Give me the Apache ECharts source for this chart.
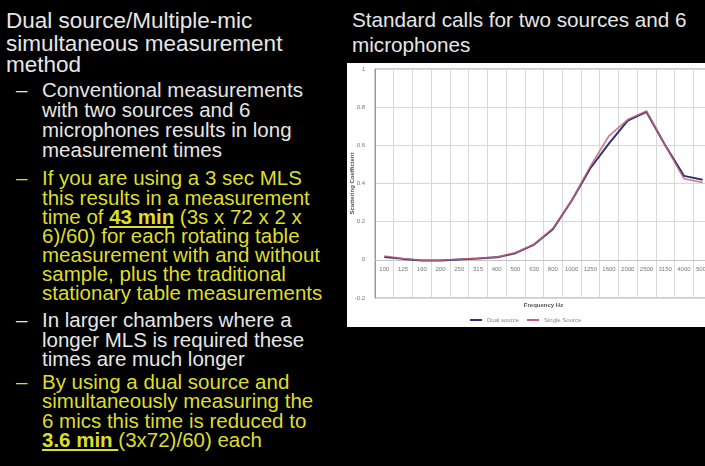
<!DOCTYPE html>
<html><head><meta charset="utf-8">
<script src="https://cdn.jsdelivr.net/npm/echarts@6/dist/echarts.min.js"></script>
<style>
html,body{margin:0;padding:0;width:705px;height:466px;background:#000;overflow:hidden;font-family:"Liberation Sans",Arial,sans-serif;}
.t{position:absolute;white-space:nowrap;color:#e6e6e6;line-height:1;}
.h{font-size:22.5px;left:6px;}
.b{font-size:20.5px;left:42px;}
.d{font-size:20.5px;left:16px;}
.y{color:#dede2a;}
#box{position:absolute;left:347px;top:63px;width:370px;height:264px;background:#fff;}
#chart{position:absolute;left:347px;top:63px;width:365px;height:264px;}
</style></head><body>
<div class="t h" style="top:10px">Dual source/Multiple-mic</div>
<div class="t h" style="top:33px">simultaneous measurement</div>
<div class="t h" style="top:54px">method</div>
<div class="t d" style="top:80px">–</div>
<div class="t b" style="top:80px">Conventional measurements</div>
<div class="t b" style="top:100px">with two sources and 6</div>
<div class="t b" style="top:120px">microphones results in long</div>
<div class="t b" style="top:140px">measurement times</div>
<div class="t d y" style="top:168px">–</div>
<div class="t b y" style="top:168px">If you are using a 3 sec MLS</div>
<div class="t b y" style="top:188px">this results in a measurement</div>
<div class="t b y" style="top:207px">time of <u><b>43 min</b></u> (3s x 72 x 2 x</div>
<div class="t b y" style="top:226px">6)/60) for each rotating table</div>
<div class="t b y" style="top:245px">measurement with and without</div>
<div class="t b y" style="top:264px">sample, plus the traditional</div>
<div class="t b y" style="top:283px">stationary table measurements</div>
<div class="t d" style="top:310px">–</div>
<div class="t b" style="top:310px">In larger chambers where a</div>
<div class="t b" style="top:330px">longer MLS is required these</div>
<div class="t b" style="top:349px">times are much longer</div>
<div class="t d y" style="top:372px">–</div>
<div class="t b y" style="top:372px">By using a dual source and</div>
<div class="t b y" style="top:391px">simultaneously measuring the</div>
<div class="t b y" style="top:411px">6 mics this time is reduced to</div>
<div class="t b y" style="top:430px"><u><b>3.6 min </b></u> (3x72)/60) each</div>
<div class="t" style="left:352px;top:10px;font-size:20.7px;">Standard calls for two sources and 6</div>
<div class="t" style="left:352px;top:35px;font-size:20.7px;">microphones</div>
<div id="box"></div>
<div id="chart"></div>
<script>
const categories = ['100','125','160','200','250','315','400','500','630','800','1000','1250','1600','2000','2500','3150','4000','5000'];
const dualSource = [0.015,0.005,-0.003,-0.003,0.002,0.007,0.013,0.035,0.08,0.16,0.31,0.48,0.61,0.73,0.775,0.60,0.44,0.42];
const singleSource = [0.02,0.007,-0.002,-0.002,0.003,0.008,0.015,0.037,0.082,0.165,0.31,0.49,0.65,0.735,0.78,0.60,0.425,0.405];
const yTicks = {min:-0.2, max:1, interval:0.2};

const chartH = 264, gridBottom = 29;
const chart = echarts.init(document.getElementById('chart'), null, {renderer:'canvas'});
chart.setOption({
  animation:false,
  backgroundColor:'transparent',
  grid:{left:28, top:6, right:0, bottom:gridBottom, show:true, borderColor:'#9a9a9a', borderWidth:1,
        containLabel:false, outerBoundsMode:'none'},
  legend:{
    top:249, left:118, itemWidth:12, itemHeight:2, itemGap:8,
    textStyle:{fontSize:6, color:'#888'},
    icon:'rect',
    data:['Dual source','Single Source']
  },
  xAxis:{
    type:'category', data:categories, boundaryGap:true, position:'bottom',
    name:'Frequency Hz', nameLocation:'middle', nameGap:43, nameMoveOverlap:false,
    nameTextStyle:{fontSize:6, color:'#555', fontWeight:'bold'},
    axisLine:{show:true, onZero:false, lineStyle:{color:'#c4c4c4'}},
    axisTick:{show:false},
    axisLabel:{fontSize:6, color:'#777', margin:7, interval:0},
    splitLine:{show:true, lineStyle:{color:'#d8d8d8', width:1}}
  },
  yAxis:{
    type:'value', min:yTicks.min, max:yTicks.max, interval:yTicks.interval,
    name:'Scattering Coefficient', nameLocation:'middle', nameGap:20, nameRotate:90, nameMoveOverlap:false,
    nameTextStyle:{fontSize:6, color:'#555', fontWeight:'bold'},
    axisLine:{show:true, lineStyle:{color:'#999'}},
    axisTick:{show:false},
    axisLabel:{fontSize:6, color:'#777', margin:10, formatter:v=>{const r=Math.round(v*10)/10; return r===0?'0':String(r);}},
    splitLine:{show:true, lineStyle:{color:'#d8d8d8', width:1}}
  },
  series:[
    {name:'Dual source', type:'line', data:dualSource, showSymbol:false, symbol:'none',
     lineStyle:{color:'#2b3470', width:2}, itemStyle:{color:'#2b3470'}},
    {name:'Single Source', type:'line', data:singleSource, showSymbol:false, symbol:'none',
     lineStyle:{color:'#c8607a', width:1.6, opacity:0.85}, itemStyle:{color:'#c8607a'}}
  ]
});
// place the category axis on the value 0, using the chart's own y scale
const zeroY = chart.convertToPixel({yAxisIndex:0}, 0);
const shift = (chartH - gridBottom) - zeroY;
chart.setOption({xAxis:{offset:-shift}});
</script>
</body></html>
